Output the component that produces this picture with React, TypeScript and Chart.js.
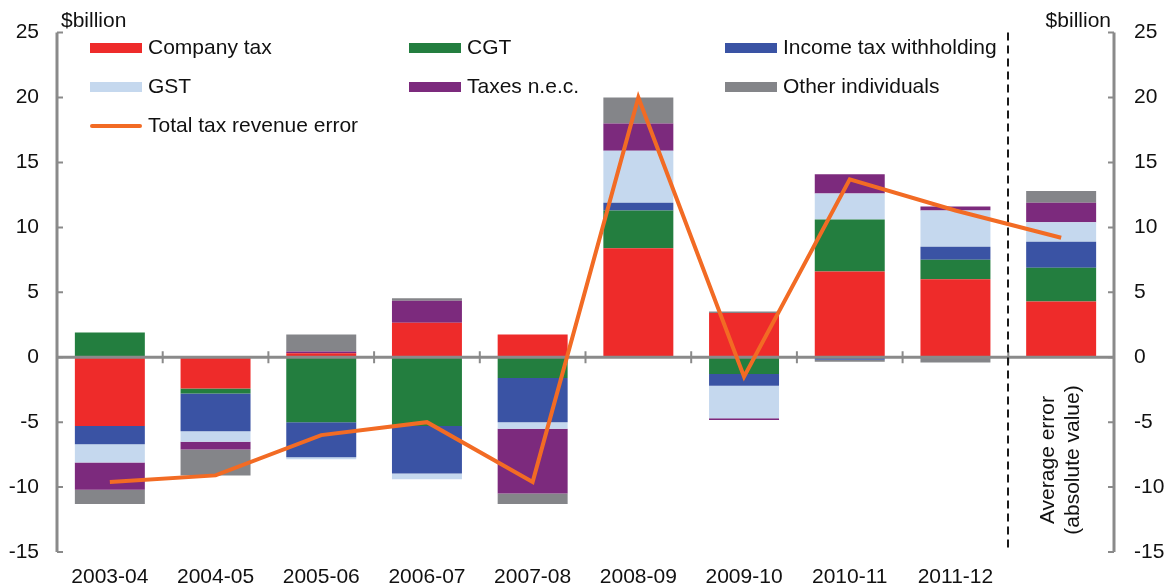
import React, { useEffect, useRef } from 'react';
import { Chart, registerables } from 'chart.js';

Chart.register(...registerables);

const categories = ['2003-04', '2004-05', '2005-06', '2006-07', '2007-08', '2008-09', '2009-10', '2010-11', '2011-12', 'Average error'];
const averageLabel = ['Average error', '(absolute value)'];

const companyTax = [-5.3, -2.4, 0.3, 2.65, 1.75, 8.4, 3.4, 6.6, 6.0, 4.3];
const cgt = [1.9, -0.4, -5.0, -5.3, -1.6, 2.9, -1.3, 4.0, 1.5, 2.6];
const incomeWithholding = [-1.4, -2.9, -2.7, -3.65, -3.4, 0.6, -0.9, -0.2, 1.0, 2.0];
const gst = [-1.4, -0.8, -0.15, -0.45, -0.5, 4.0, -2.5, 2.0, 2.8, 1.5];
const taxesNec = [-2.1, -0.6, 0.15, 1.7, -5.0, 2.1, -0.13, 1.5, 0.3, 1.5];
const otherIndividuals = [-1.1, -2.0, 1.3, 0.2, -0.8, 2.0, 0.13, -0.15, -0.4, 0.9];
const totalError = [-9.6, -9.1, -6.0, -5.0, -9.6, 20.0, -1.5, 13.7, 11.3, 9.2];

const yTicks = [-15, -10, -5, 0, 5, 10, 15, 20, 25];
const unitLabel = '$billion';

const COLORS = {
  company: '#EE2B2A',
  cgt: '#237E3F',
  income: '#3A53A4',
  gst: '#C5D8EE',
  nec: '#7C2A7D',
  other: '#848589',
  total: '#F26B24',
};
const AXIS = '#8a8a8a';
const FONT = "'Liberation Sans', Arial, sans-serif";
const FS = 21;

const legendItems = [
  { label: 'Company tax', color: COLORS.company, col: 0, row: 0, line: false },
  { label: 'CGT', color: COLORS.cgt, col: 1, row: 0, line: false },
  { label: 'Income tax withholding', color: COLORS.income, col: 2, row: 0, line: false },
  { label: 'GST', color: COLORS.gst, col: 0, row: 1, line: false },
  { label: 'Taxes n.e.c.', color: COLORS.nec, col: 1, row: 1, line: false },
  { label: 'Other individuals', color: COLORS.other, col: 2, row: 1, line: false },
  { label: 'Total tax revenue error', color: COLORS.total, col: 0, row: 2, line: true },
];
const legendColX = [90, 409, 725];
const legendRowY = [48, 87, 126];

const decorPlugin = {
  id: 'decor',
  beforeDatasetDraw(chart: any, args: any) {
    if (args.index !== 6) return;
    const { ctx, chartArea, scales } = chart;
    const { left, right, top, bottom } = chartArea;
    const x = scales.x;
    const y = scales.y;
    ctx.save();
    ctx.strokeStyle = AXIS;
    ctx.lineWidth = 3;
    ctx.beginPath();
    ctx.moveTo(left, top);
    ctx.lineTo(left, bottom);
    ctx.moveTo(right, top);
    ctx.lineTo(right, bottom);
    ctx.stroke();
    ctx.lineWidth = 2;
    ctx.beginPath();
    for (const v of yTicks) {
      const py = y.getPixelForValue(v);
      ctx.moveTo(left, py);
      ctx.lineTo(left + 6, py);
      ctx.moveTo(right, py);
      ctx.lineTo(right - 6, py);
    }
    ctx.stroke();
    const y0 = y.getPixelForValue(0);
    ctx.lineWidth = 3;
    ctx.beginPath();
    ctx.moveTo(left, y0);
    ctx.lineTo(right, y0);
    ctx.stroke();
    ctx.lineWidth = 2;
    ctx.beginPath();
    for (let i = 1; i < categories.length; i++) {
      const px = (x.getPixelForValue(i - 1) + x.getPixelForValue(i)) / 2;
      ctx.moveTo(px, y0 - 6);
      ctx.lineTo(px, y0 + 6);
    }
    ctx.stroke();
    // dashed separator
    const n = categories.length;
    const sx = Math.round((x.getPixelForValue(n - 2) + x.getPixelForValue(n - 1)) / 2);
    ctx.strokeStyle = '#1a1a1a';
    ctx.lineWidth = 2;
    ctx.setLineDash([8, 5]);
    ctx.beginPath();
    ctx.moveTo(sx, top);
    ctx.lineTo(sx, bottom);
    ctx.stroke();
    ctx.restore();
  },
  afterDraw(chart: any) {
    const { ctx, chartArea, scales } = chart;
    const x = scales.x;
    ctx.save();
    ctx.font = `${FS}px ${FONT}`;
    ctx.fillStyle = '#111';
    ctx.textBaseline = 'middle';
    // units
    ctx.textAlign = 'left';
    ctx.fillText(unitLabel, chartArea.left + 4, 21);
    ctx.textAlign = 'right';
    ctx.fillText(unitLabel, chartArea.right - 3, 21);
    // legend
    ctx.textAlign = 'left';
    for (const it of legendItems) {
      const lx = legendColX[it.col];
      const ly = legendRowY[it.row];
      if (it.line) {
        ctx.strokeStyle = it.color;
        ctx.lineWidth = 4;
        ctx.lineCap = 'round';
        ctx.beginPath();
        ctx.moveTo(lx + 2, ly);
        ctx.lineTo(lx + 50, ly);
        ctx.stroke();
      } else {
        ctx.fillStyle = it.color;
        ctx.fillRect(lx, ly - 5, 52, 10);
      }
      ctx.fillStyle = '#111';
      ctx.fillText(it.label, lx + 58, ly);
    }
    // rotated average label
    const cx = x.getPixelForValue(categories.length - 1);
    ctx.translate(cx, 460);
    ctx.rotate(-Math.PI / 2);
    ctx.textAlign = 'center';
    ctx.fillText(averageLabel[0], 0, -12.5);
    ctx.fillText(averageLabel[1], 0, 12.5);
    ctx.restore();
  },
};

export default function App() {
  const ref = useRef<HTMLCanvasElement | null>(null);
  useEffect(() => {
    if (!ref.current) return;
    Chart.defaults.font.family = FONT;
    Chart.defaults.font.size = FS;
    Chart.defaults.color = '#111';
    const bar = (label: string, data: number[], color: string) => ({
      type: 'bar' as const,
      label,
      data,
      backgroundColor: color,
      borderWidth: 0,
      stack: 'bars',
      order: 1,
      barPercentage: 0.662,
      categoryPercentage: 1,
    });
    const chart = new Chart(ref.current, {
      type: 'bar',
      data: {
        labels: categories,
        datasets: [
          bar('Company tax', companyTax, COLORS.company),
          bar('CGT', cgt, COLORS.cgt),
          bar('Income tax withholding', incomeWithholding, COLORS.income),
          bar('GST', gst, COLORS.gst),
          bar('Taxes n.e.c.', taxesNec, COLORS.nec),
          bar('Other individuals', otherIndividuals, COLORS.other),
          {
            type: 'line' as const,
            label: 'Total tax revenue error',
            data: totalError,
            borderColor: COLORS.total,
            backgroundColor: COLORS.total,
            borderWidth: 4,
            pointRadius: 0,
            tension: 0,
            stack: 'total',
            order: 0,
          } as any,
        ],
      },
      options: {
        animation: false,
        responsive: false,
        maintainAspectRatio: false,
        layout: { padding: { top: 32, left: 0, right: 0, bottom: 0 } },
        plugins: { legend: { display: false }, tooltip: { enabled: false } },
        scales: {
          x: {
            stacked: true,
            grid: { display: false, drawTicks: false },
            border: { display: false },
            ticks: {
              padding: 13,
              maxRotation: 0,
              autoSkip: false,
              callback: (_v: any, i: number) => (i === categories.length - 1 ? '' : categories[i]),
            },
            afterFit: (s: any) => { s.height = 35; },
          },
          y: {
            type: 'linear',
            position: 'left',
            stacked: true,
            min: -15,
            max: 25,
            grid: { display: false, drawTicks: false },
            border: { display: false },
            ticks: { stepSize: 5, padding: 18 },
            afterFit: (s: any) => { s.width = 57; },
          },
          y2: {
            type: 'linear',
            position: 'right',
            min: -15,
            max: 25,
            grid: { display: false, drawTicks: false },
            border: { display: false },
            ticks: { stepSize: 5, padding: 20 },
            afterFit: (s: any) => { s.width = 53; },
          },
        },
      },
      plugins: [decorPlugin],
    });
    return () => chart.destroy();
  }, []);
  return (
    <div style={{ position: 'fixed', left: 0, top: 0, width: 1167, height: 587, background: '#fff' }}>
      <canvas ref={ref} width={1167} height={587} style={{ display: 'block' }} />
    </div>
  );
}
